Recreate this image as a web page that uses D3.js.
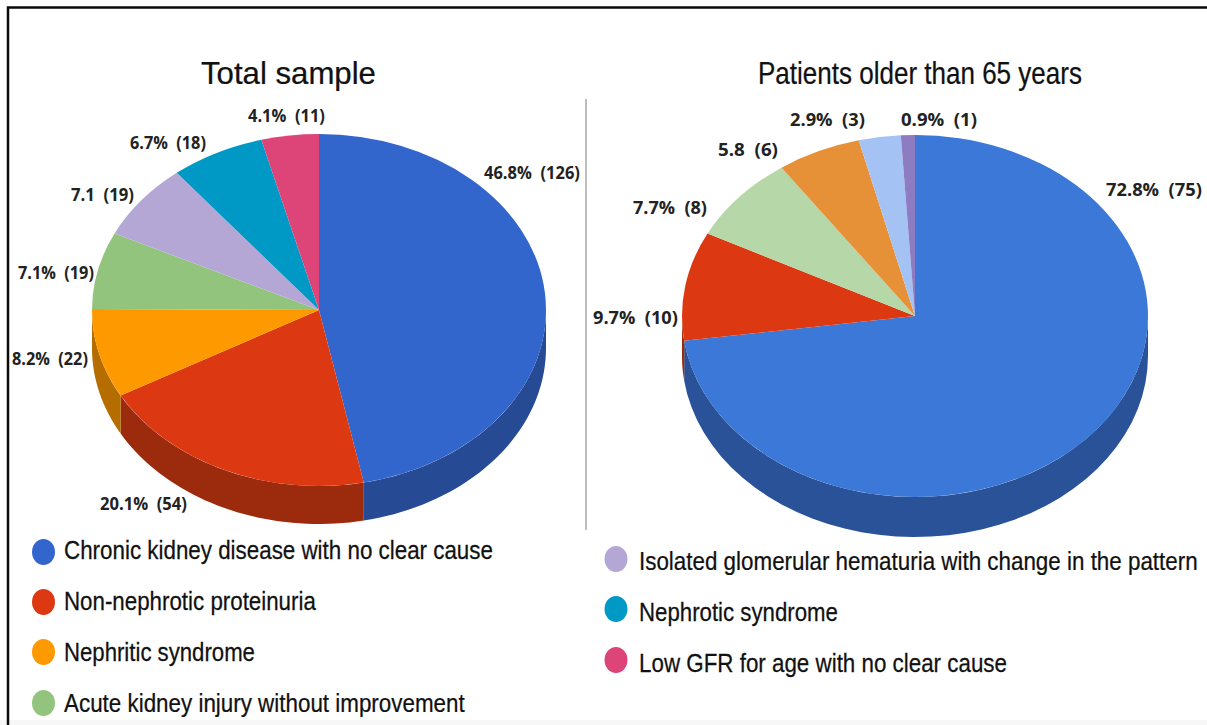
<!DOCTYPE html>
<html>
<head>
<meta charset="utf-8">
<script src="https://cdn.jsdelivr.net/npm/d3@7"></script>
<style>
  html, body { margin: 0; padding: 0; background: #fff; overflow: hidden; }
  text { fill: #111; }
  .title, .legend { font-family: "Liberation Sans", Arial, sans-serif; stroke: #111; stroke-width: 0.25; }
  .lab { font-family: "Open Sans", sans-serif; font-weight: 700; font-size: 18px; fill: #222; white-space: pre; }
</style>
</head>
<body>
<div id="chart"></div>
<script>
// counts per category, clockwise from 12 o'clock
const totalValues = [126, 54, 22, 19, 19, 18, 11];
const totalLabels = ["46.8%  (126)", "20.1%  (54)", "8.2%  (22)", "7.1%  (19)", "7.1  (19)", "6.7%  (18)", "4.1%  (11)"];
const olderValues = [75, 10, 8, 6, 3, 1];
const olderLabels = ["72.8%  (75)", "9.7%  (10)", "7.7%  (8)", "5.8  (6)", "2.9%  (3)", "0.9%  (1)"];
const legendLeft = ["Chronic kidney disease with no clear cause", "Non-nephrotic proteinuria", "Nephritic syndrome", "Acute kidney injury without improvement"];
const legendRight = ["Isolated glomerular hematuria with change in the pattern", "Nephrotic syndrome", "Low GFR for age with no clear cause"];

const totalColors = ["#3366cc", "#dc3912", "#ff9900", "#93c47d", "#b4a7d6", "#0099c6", "#dd4477"];
const totalSides = ["#264a94", "#9c2a0c", "#b56d00", "#93c47d", "#b4a7d6", "#0099c6", "#dd4477"];
const olderColors = ["#3c78d8", "#dc3912", "#b6d7a8", "#e69138", "#a4c2f4", "#8e7cc3"];
const olderSides = ["#2a5298", "#9c2a0c", "#b6d7a8", "#e69138", "#a4c2f4", "#8e7cc3"];

// label placement: x start, x end, baseline
const totalLabelPos = [[484, 580, 179], [100, 187, 510], [12, 88, 365], [18, 94, 279], [71, 134, 201], [130, 206, 149], [248, 325, 122]];
const olderLabelPos = [[1106, 1202, 196], [593, 678, 324], [633, 707, 214], [718, 778, 156], [790, 865, 126], [901, 977, 126]];

const svg = d3.select("#chart").append("svg")
  .attr("width", 1207)
  .attr("height", 725);

svg.append("rect").attr("width", 1207).attr("height", 725).attr("fill", "#fff");
// faint strip along the bottom of the scan
svg.append("rect").attr("y", 720).attr("width", 1207).attr("height", 5).attr("fill", "#f7f7f7");

// frame, only top and left show up in the picture
svg.append("path")
  .attr("d", "M8,725V7.5H1207")
  .attr("fill", "none")
  .attr("stroke", "#0a0a0a")
  .attr("stroke-width", 2.5);

svg.append("line")
  .attr("x1", 586).attr("x2", 586)
  .attr("y1", 99).attr("y2", 530)
  .attr("stroke", "#a8a8a8")
  .attr("stroke-width", 1.5);

// squeeze a text horizontally so it runs from x0 to x1, the source fonts are narrow
const fitText = (sel, x0, x1, y) => {
  sel.each(function(d, i) {
    const w = this.getComputedTextLength();
    const a = x0(d, i);
    d3.select(this).attr("transform",
      "translate(" + a + "," + y(d, i) + ") scale(" + (x1(d, i) - a) / w + ",1)");
  });
};

const drawPie = (o) => {
  const slices = d3.pie().sort(null).value(d => d)(o.values);
  const k = o.ry / o.rx;
  const px = a => o.cx + o.rx * Math.sin(a);
  const py = a => o.cy - o.ry * Math.cos(a);

  // side wall, only the front half of the ellipse
  const wall = svg.append("g");
  slices.forEach((s, i) => {
    const a0 = Math.max(s.startAngle, Math.PI / 2);
    const a1 = Math.min(s.endAngle, Math.PI * 1.5);
    if (a1 <= a0) return;
    const steps = d3.range(0, 41).map(t => a0 + (a1 - a0) * t / 40);
    const top = steps.map(a => [px(a), py(a)]);
    const bottom = steps.slice().reverse().map(a => [px(a), py(a) + o.depth]);
    wall.append("path")
      .attr("d", d3.line()(top.concat(bottom)) + "Z")
      .attr("fill", o.sides[i]);
  });

  const arc = d3.arc().innerRadius(0).outerRadius(o.rx);
  svg.append("g")
    .attr("transform", "translate(" + o.cx + "," + o.cy + ") scale(1," + k + ")")
    .selectAll("path").data(slices).enter()
    .append("path")
    .attr("d", arc)
    .attr("fill", (d, i) => o.colors[i]);

  svg.append("g").selectAll("text").data(o.labels).enter()
    .append("text")
    .attr("class", "lab")
    .text(d => d)
    .call(fitText, (d, i) => o.labelPos[i][0], (d, i) => o.labelPos[i][1], (d, i) => o.labelPos[i][2]);
};

drawPie({cx: 319, cy: 310, rx: 227, ry: 176, depth: 38, values: totalValues,
  colors: totalColors, sides: totalSides, labels: totalLabels, labelPos: totalLabelPos});
drawPie({cx: 915, cy: 316, rx: 233, ry: 181, depth: 40, values: olderValues,
  colors: olderColors, sides: olderSides, labels: olderLabels, labelPos: olderLabelPos});

svg.append("text").attr("class", "title")
  .attr("font-size", 31)
  .text("Total sample")
  .call(fitText, () => 201, () => 376, () => 84);
svg.append("text").attr("class", "title")
  .attr("font-size", 31)
  .text("Patients older than 65 years")
  .call(fitText, () => 758, () => 1082, () => 84);

// legend, two columns, colours follow the total sample slices
const legendRows = [
  {text: legendLeft[0], color: totalColors[0], cx: 43.5, cy: 552, x: 64, end: 493, y: 559},
  {text: legendLeft[1], color: totalColors[1], cx: 43.5, cy: 602, x: 64, end: 316, y: 610},
  {text: legendLeft[2], color: totalColors[2], cx: 43.5, cy: 652, x: 64, end: 255, y: 661},
  {text: legendLeft[3], color: totalColors[3], cx: 43.5, cy: 703, x: 64, end: 465, y: 712},
  {text: legendRight[0], color: totalColors[4], cx: 616, cy: 559, x: 639, end: 1198, y: 570},
  {text: legendRight[1], color: totalColors[5], cx: 616, cy: 609, x: 639, end: 838, y: 621},
  {text: legendRight[2], color: totalColors[6], cx: 616, cy: 660, x: 639, end: 1007, y: 672}
];

const rows = svg.append("g").selectAll("g").data(legendRows).enter().append("g");
rows.append("ellipse")
  .attr("cx", d => d.cx).attr("cy", d => d.cy)
  .attr("rx", 11.5).attr("ry", 13)
  .attr("fill", d => d.color);
rows.append("text").attr("class", "legend")
  .attr("font-size", 26)
  .text(d => d.text)
  .call(fitText, d => d.x, d => d.end, d => d.y);
</script>
</body>
</html>
